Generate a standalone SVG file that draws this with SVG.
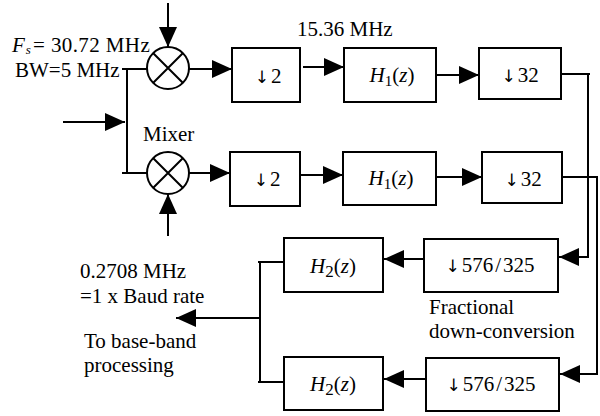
<svg xmlns="http://www.w3.org/2000/svg" width="600" height="416" viewBox="0 0 600 416">
<defs>
<marker id="ah" markerUnits="userSpaceOnUse" markerWidth="20" markerHeight="18" refX="20" refY="9" orient="auto" viewBox="0 0 20 18">
<path d="M0,0 L20,9 L0,18 z" fill="#000"/>
</marker>
<style>
.box{fill:#fff;stroke:#000;stroke-width:2}
.mix{fill:#fff;stroke:#000;stroke-width:2}
.ln{fill:none;stroke:#000;stroke-width:2}
.arr{fill:none;stroke:#000;stroke-width:2;marker-end:url(#ah)}
text{font-family:"Liberation Serif","Times New Roman",serif;font-size:21px;fill:#000}
.c{text-anchor:middle}
.it{font-style:italic}
.dn{font-family:"DejaVu Sans",sans-serif;font-size:17px}
</style>
</defs>
<rect width="600" height="416" fill="#fff"/>

<g id="connectors">
<line class="arr" x1="168" y1="3" x2="168" y2="47"/>
<line class="arr" x1="168" y1="236" x2="168" y2="194"/>
<line class="arr" x1="63" y1="122" x2="125" y2="122"/>
<path class="ln" d="M122,69 H147 M127,69 V173 M122,173 H147"/>
<line class="arr" x1="189" y1="69" x2="232" y2="69"/>
<line class="arr" x1="189" y1="173" x2="230" y2="173"/>
<line class="arr" x1="303" y1="67" x2="344" y2="67"/>
<line class="arr" x1="300" y1="175" x2="343" y2="175"/>
<line class="arr" x1="436" y1="75" x2="479" y2="75"/>
<line class="arr" x1="436" y1="177" x2="482" y2="177"/>
<path class="ln" d="M561,74 H590"/>
<polyline class="arr" points="588,74 588,257 559,257"/>
<path class="ln" d="M562,177 H598"/>
<polyline class="arr" points="597,177 597,374 560,374"/>
<line class="arr" x1="424" y1="259" x2="384" y2="259"/>
<line class="arr" x1="426" y1="379" x2="384" y2="379"/>
<path class="ln" d="M258,262 H284 M260,262 V382 M258,382 H284"/>
<line class="arr" x1="260" y1="318" x2="176" y2="318"/>
</g>

<g id="mixer1">
<circle class="mix" cx="168" cy="68" r="21"/>
<path class="ln" d="M153,53 L183,83 M183,53 L153,83"/>
</g>
<g id="mixer2">
<circle class="mix" cx="168" cy="173" r="21"/>
<path class="ln" d="M153,158 L183,188 M183,158 L153,188"/>
<text x="143" y="141">Mixer</text>
</g>

<g id="input-label">
<text x="12" y="52" font-size="18"><tspan class="it">F</tspan><tspan class="it" font-size="13" dx="1" dy="2">s</tspan><tspan x="33" dy="-2" letter-spacing="0.4">= 30.72 MHz</tspan></text>
<text x="15" y="77">BW=5 MHz</text>
</g>

<g id="dec2a">
<rect class="box" x="232" y="48" width="68" height="54"/>
<text class="c" x="268" y="83"><tspan class="dn">↓</tspan><tspan dx="2">2</tspan></text>
</g>
<g id="dec2b">
<rect class="box" x="230" y="152" width="70" height="54"/>
<text class="c" x="267" y="186"><tspan class="dn">↓</tspan><tspan dx="2">2</tspan></text>
</g>

<text x="297" y="36">15.36 MHz</text>

<g id="h1a">
<rect class="box" x="344" y="48" width="92" height="54"/>
<text class="c" x="392" y="82"><tspan class="it">H</tspan><tspan font-size="15" dy="4">1</tspan><tspan dy="-4">(</tspan><tspan class="it">z</tspan>)</text>
</g>
<g id="h1b">
<rect class="box" x="343" y="152" width="93" height="53"/>
<text class="c" x="391" y="185"><tspan class="it">H</tspan><tspan font-size="15" dy="4">1</tspan><tspan dy="-4">(</tspan><tspan class="it">z</tspan>)</text>
</g>

<g id="dec32a">
<rect class="box" x="479" y="48" width="82" height="51"/>
<text class="c" x="520" y="82"><tspan class="dn">↓</tspan><tspan dx="2">32</tspan></text>
</g>
<g id="dec32b">
<rect class="box" x="482" y="152" width="80" height="51"/>
<text class="c" x="523" y="186"><tspan class="dn">↓</tspan><tspan dx="2">32</tspan></text>
</g>

<g id="frac1">
<rect class="box" x="424" y="239" width="134" height="53"/>
<text class="c" x="490" y="272"><tspan class="dn">↓</tspan><tspan dx="2">576</tspan><tspan dx="2">/</tspan><tspan dx="2">325</tspan></text>
</g>
<g id="frac2">
<rect class="box" x="426" y="358" width="133" height="53"/>
<text class="c" x="491" y="391"><tspan class="dn">↓</tspan><tspan dx="2">576</tspan><tspan dx="2">/</tspan><tspan dx="2">325</tspan></text>
</g>
<g id="frac-label">
<text x="429" y="314">Fractional</text>
<text x="429" y="338">down-conversion</text>
</g>

<g id="h2a">
<rect class="box" x="284" y="238" width="99" height="54"/>
<text class="c" x="333" y="273"><tspan class="it">H</tspan><tspan font-size="17" dy="4">2</tspan><tspan dy="-4">(</tspan><tspan class="it">z</tspan>)</text>
</g>
<g id="h2b">
<rect class="box" x="284" y="357" width="99" height="53"/>
<text class="c" x="333" y="391"><tspan class="it">H</tspan><tspan font-size="17" dy="4">2</tspan><tspan dy="-4">(</tspan><tspan class="it">z</tspan>)</text>
</g>

<g id="output-label">
<text x="80" y="278">0.2708 MHz</text>
<text x="80" y="303">=1 x Baud rate</text>
<text x="84" y="348">To base-band</text>
<text x="84" y="372">processing</text>
</g>
</svg>
